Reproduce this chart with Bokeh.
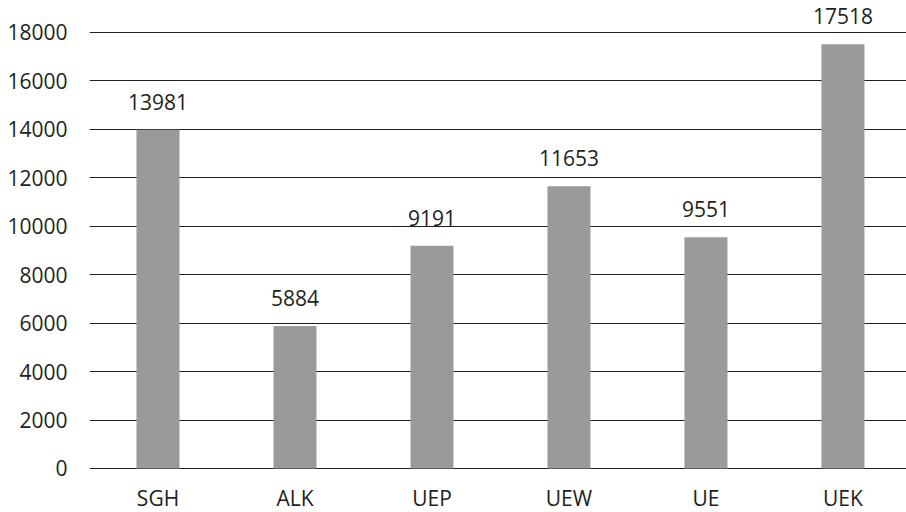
from bokeh.plotting import figure
from bokeh.models import Range1d, FixedTicker, ColumnDataSource
from bokeh.core.properties import value
from bokeh.embed import file_html
from bokeh.resources import INLINE

categories = ["SGH", "ALK", "UEP", "UEW", "UE", "UEK"]
values = [13981, 5884, 9191, 11653, 9551, 17518]
y_ticks = [0, 2000, 4000, 6000, 8000, 10000, 12000, 14000, 16000, 18000]

xs = [i + 0.5 for i in range(len(categories))]
src = ColumnDataSource(dict(x=xs, top=values, label=[str(v) for v in values],
                            zero=[0] * len(values), cat=categories))

FONT = "Open Sans"
TXT = "#231f20"
FS = "21px"

p = figure(width=906, height=512, output_backend="svg", toolbar_location=None,
           x_range=Range1d(0, 5.964), y_range=Range1d(-1817, 19321),
           x_axis_location=None,
           min_border_left=89, min_border_right=0, min_border_top=0, min_border_bottom=0)
p.outline_line_color = None
p.background_fill_color = "white"
p.border_fill_color = "white"

p.vbar(x="x", top="top", bottom=0, width=0.314, source=src, fill_color="#999b9b", line_color=None)
p.text(x="x", y="top", text="label", source=src, text_align="center", text_baseline="middle",
       y_offset=-28, text_font=value(FONT), text_font_size=FS, text_color=TXT)
p.text(x="x", y="zero", text="cat", source=src, text_align="center", text_baseline="middle",
       y_offset=30, text_font=value(FONT), text_font_size=FS, text_color=TXT)

p.xgrid.visible = False
p.ygrid.ticker = FixedTicker(ticks=y_ticks)
p.ygrid.grid_line_color = TXT
p.ygrid.grid_line_width = 1.2

p.yaxis.ticker = FixedTicker(ticks=y_ticks)
p.yaxis.axis_line_color = None
p.yaxis.major_tick_line_color = None
p.yaxis.minor_tick_line_color = None
p.yaxis.major_label_standoff = 16
p.yaxis.major_label_text_font = FONT
p.yaxis.major_label_text_font_size = FS
p.yaxis.major_label_text_color = TXT

open("out.html", "w").write(file_html(p, INLINE))
